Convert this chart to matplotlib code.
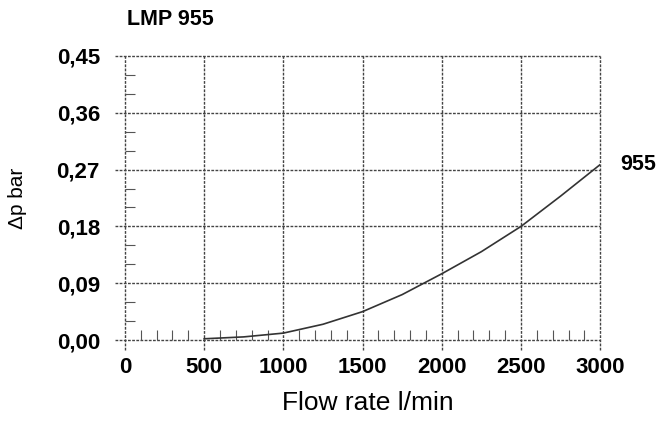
import numpy as np
import matplotlib.pyplot as plt
from matplotlib.ticker import FixedLocator

flow = [500, 750, 1000, 1250, 1500, 1750, 2000, 2250, 2500, 2750, 3000]
dp = [0.002, 0.005, 0.011, 0.025, 0.045, 0.072, 0.105, 0.140, 0.180, 0.228, 0.278]

x_ticks = [0, 500, 1000, 1500, 2000, 2500, 3000]
y_ticks = [0.00, 0.09, 0.18, 0.27, 0.36, 0.45]
y_labels = ['0,00', '0,09', '0,18', '0,27', '0,36', '0,45']
x_minor = [v for v in range(100, 3000, 100) if v % 500 != 0]
y_minor = [0.03, 0.06, 0.12, 0.15, 0.21, 0.24, 0.30, 0.33, 0.39, 0.42]

plt.rcParams['font.family'] = ['Liberation Sans', 'DejaVu Sans']

fig = plt.figure(figsize=(6.61, 4.24), dpi=100)
ax = fig.add_axes([0.189, 0.198, 0.719, 0.670])
ax.set_xlim(0, 3000)
ax.set_ylim(0, 0.45)

grid_kw = dict(color='#444444', linewidth=1.0, linestyle=(0, (2, 1)), clip_on=False, zorder=1)
for y in y_ticks:
    ax.plot([-60, 3000], [y, y], **grid_kw)
for x in x_ticks:
    ax.plot([x, x], [-0.016, 0.45], **grid_kw)

ax.plot(flow, dp, color='#333333', linewidth=1.2, zorder=3)

for s in ax.spines.values():
    s.set_visible(False)

ax.set_xticks(x_ticks)
ax.set_yticks(y_ticks)
ax.set_yticklabels(y_labels)
ax.xaxis.set_minor_locator(FixedLocator(x_minor))
ax.yaxis.set_minor_locator(FixedLocator(y_minor))
ax.tick_params(which='major', length=0, labelsize=16)
ax.tick_params(axis='x', which='major', pad=12)
ax.tick_params(axis='y', which='major', pad=18)
ax.tick_params(which='minor', direction='in', length=7.5, width=0.8, color='#555555')
for lab in ax.get_xticklabels() + ax.get_yticklabels():
    lab.set_fontweight('bold')

ax.set_xlabel('Flow rate l/min', fontsize=19)
ax.xaxis.set_label_coords(0.5105, -0.18)
ax.set_ylabel('Δp bar', fontsize=15)
ax.yaxis.set_label_coords(-0.206, 0.5)

fig.text(0.192, 0.953, 'LMP 955', fontsize=15.5, fontweight='bold', ha='left', va='center')
ax.text(3125, dp[-1], '955', fontsize=15.5, fontweight='bold', ha='left', va='center')

fig.savefig('out.png', dpi=100)
